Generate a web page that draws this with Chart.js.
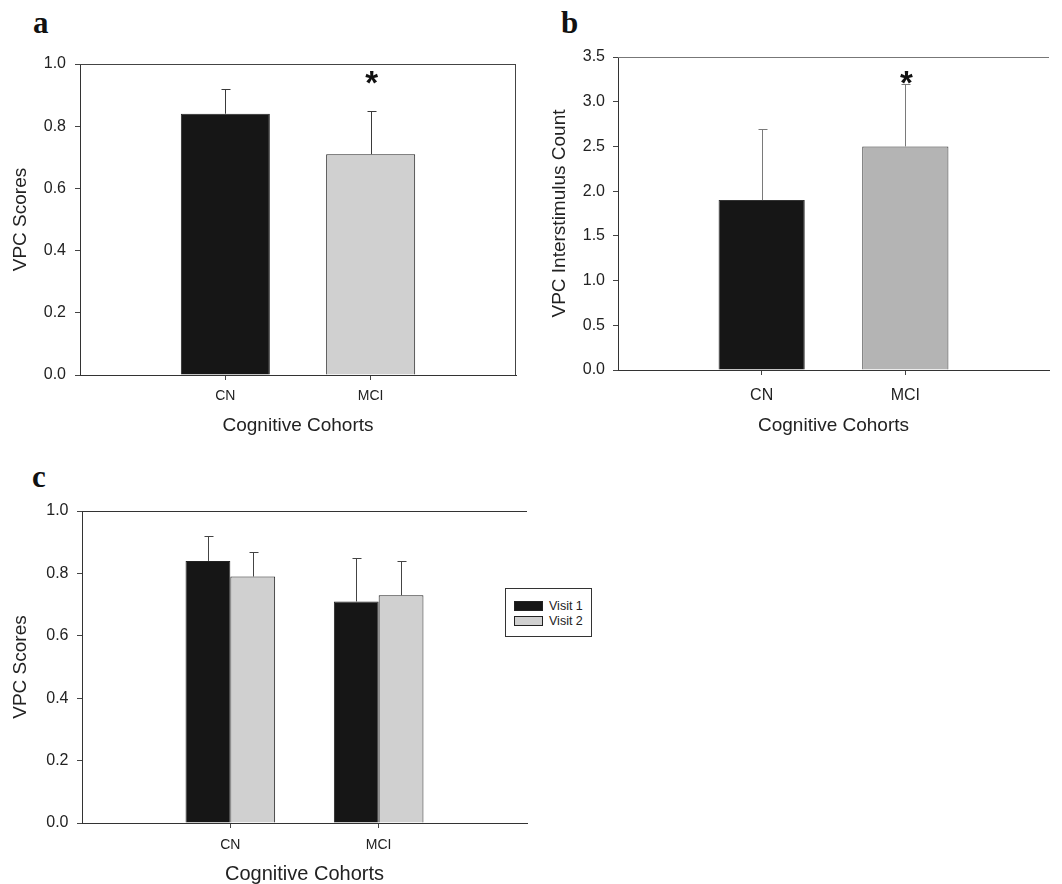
<!DOCTYPE html>
<html>
<head>
<meta charset="utf-8">
<script src="https://cdn.jsdelivr.net/npm/chart.js@4.4.0/dist/chart.umd.min.js"></script>
<style>
    html, body { margin: 0; padding: 0; background: #fff; }
    body { width: 1062px; height: 884px; position: relative; overflow: hidden; font-family: "Liberation Sans", Arial, sans-serif; }
    .panel { position: absolute; }
    .letter { position: absolute; font-family: "Liberation Serif", "Times New Roman", serif; font-weight: bold; font-size: 31px; line-height: 31px; color: #111; }
    .legend { position: absolute; left: 505px; top: 588px; width: 85px; height: 47px; border: 1px solid #333; background: #fff; }
    .legend-row { position: absolute; left: 8px; height: 12px; display: flex; align-items: center; font-size: 12.5px; color: #222; }
    .legend-swatch { width: 27px; height: 8px; border: 1px solid #222; margin-right: 6px; }
</style>
</head>
<body>
<div class="letter" style="left:33px; top:7px;">a</div>
<div class="letter" style="left:561px; top:7px;">b</div>
<div class="letter" style="left:32px; top:461px;">c</div>

<canvas id="chartA" class="panel" width="530" height="440" style="left:0; top:0;"></canvas>
<canvas id="chartB" class="panel" width="532" height="440" style="left:530px; top:0;"></canvas>
<canvas id="chartC" class="panel" width="620" height="444" style="left:0; top:440px;"></canvas>
<div id="legendC" class="legend"></div>

<script>
// categories
const cohorts = ['CN', 'MCI'];

// panel a: VPC scores
const scoresA = [0.84, 0.71];
const errorsA = [0.08, 0.14];
const starA = [null, 0.97];

// panel b: interstimulus count
const countsB = [1.9, 2.5];
const errorsB = [0.8, 0.7];
const starB = [null, 3.31];

// panel c: VPC scores by visit
const visitNames = ['Visit 1', 'Visit 2'];
const visit1C = [0.84, 0.71];
const visit1ErrC = [0.08, 0.14];
const visit2C = [0.79, 0.73];
const visit2ErrC = [0.08, 0.11];

// tick settings
const ticksScores = { max: 1.0, step: 0.2 };
const ticksCount = { max: 3.5, step: 0.5 };

const FONT = '"Liberation Sans", Arial, sans-serif';
const BLACK_BAR = '#161616';
const LIGHT_BAR = '#d0d0d0';
const MID_BAR = '#b4b4b4';

// pad the category axis with blank slots so bars sit at 1/3 and 2/3
const padLabels = (labels) => ['', ...labels, ''];
const padValues = (values) => [null, ...values, null];

const errorBars = {
    id: 'errorBars',
    afterDatasetsDraw(chart) {
        const { ctx } = chart;
        const yScale = chart.scales.y;
        chart.data.datasets.forEach((dataset, i) => {
            const meta = chart.getDatasetMeta(i);
            const errors = dataset.errors || [];
            meta.data.forEach((bar, index) => {
                const value = dataset.data[index];
                const err = errors[index];
                if (value == null || err == null) {
                    return;
                }
                const yEnd = Math.round(yScale.getPixelForValue(value + err)) + 0.5;
                const x = Math.round(bar.x) + 0.5;
                ctx.save();
                ctx.strokeStyle = dataset.errorColor || '#333';
                ctx.lineWidth = 1;
                ctx.beginPath();
                ctx.moveTo(x, bar.y);
                ctx.lineTo(x, yEnd);
                ctx.moveTo(x - 4, yEnd);
                ctx.lineTo(x + 5, yEnd);
                ctx.stroke();
                ctx.restore();
            });
        });
    },
};

const frame = {
    id: 'frame',
    afterDraw(chart, args, opts) {
        const { ctx, chartArea } = chart;
        ctx.save();
        ctx.strokeStyle = opts.color || '#444';
        ctx.lineWidth = 1;
        ctx.beginPath();
        const top = Math.round(chartArea.top) + 0.5;
        ctx.moveTo(chartArea.left, top);
        ctx.lineTo(chartArea.right, top);
        if (opts.right) {
            const right = Math.round(chartArea.right) - 0.5;
            ctx.moveTo(right, chartArea.top);
            ctx.lineTo(right, chartArea.bottom);
        }
        ctx.stroke();
        ctx.restore();
    },
};

const stars = {
    id: 'stars',
    afterDraw(chart, args, opts) {
        if (!opts.values) {
            return;
        }
        const { ctx } = chart;
        const size = opts.size || 33;
        ctx.save();
        ctx.fillStyle = '#111';
        ctx.font = `bold ${size}px ${FONT}`;
        ctx.textAlign = 'center';
        ctx.textBaseline = 'alphabetic';
        opts.values.forEach((value, index) => {
            if (value == null) {
                return;
            }
            const x = chart.scales.x.getPixelForValue(index + 1);
            const y = chart.scales.y.getPixelForValue(value);
            ctx.fillText('*', x + 1, y + size * 0.62);
        });
        ctx.restore();
    },
};

function buildOptions(p) {
    return {
        responsive: false,
        animation: false,
        devicePixelRatio: 1,
        layout: { padding: { top: p.top, right: p.right, left: 0, bottom: 0 } },
        plugins: {
            legend: { display: false },
            tooltip: { enabled: false },
            frame: { color: p.frameColor, right: p.frameRight },
            stars: { values: p.stars || null },
        },
        scales: {
            x: {
                type: 'category',
                offset: false,
                afterFit: (scale) => { scale.height = p.xHeight; },
                grid: {
                    offset: false,
                    drawOnChartArea: false,
                    tickLength: 5,
                    color: (ctx) => (ctx.tick && ctx.tick.label ? '#444' : 'rgba(0,0,0,0)'),
                },
                border: { display: true, color: '#333', width: 1 },
                ticks: {
                    autoSkip: false,
                    maxRotation: 0,
                    padding: p.xPad,
                    color: '#222',
                    font: { family: FONT, size: p.catSize, lineHeight: 1 },
                },
                title: {
                    display: true,
                    text: 'Cognitive Cohorts',
                    color: '#222',
                    padding: p.xTitlePad,
                    font: { family: FONT, size: p.titleSize, lineHeight: 1 },
                },
            },
            y: {
                min: 0,
                max: p.ticks.max,
                afterFit: (scale) => { scale.width = p.yWidth; },
                grid: { drawOnChartArea: false, tickLength: 5, color: '#444' },
                border: { display: true, color: '#333', width: 1 },
                ticks: {
                    stepSize: p.ticks.step,
                    padding: p.yPad,
                    color: '#222',
                    font: { family: FONT, size: 16, lineHeight: 1 },
                    callback: (value) => Number(value).toFixed(1),
                },
                title: {
                    display: true,
                    text: p.yTitle,
                    color: '#222',
                    padding: p.yTitlePad,
                    font: { family: FONT, size: 19, lineHeight: 1 },
                },
            },
        },
    };
}

new Chart(document.getElementById('chartA'), {
    type: 'bar',
    data: {
        labels: padLabels(cohorts),
        datasets: [{
            data: padValues(scoresA),
            errors: padValues(errorsA),
            errorColor: '#3a3a3a',
            backgroundColor: padValues([BLACK_BAR, LIGHT_BAR]),
            borderColor: '#222',
            borderWidth: 1,
            borderSkipped: 'bottom',
            categoryPercentage: 0.6125,
            barPercentage: 1,
        }],
    },
    options: buildOptions({
        top: 64, right: 14, yWidth: 80, xHeight: 65,
        xPad: 9, catSize: 14, titleSize: 19, xTitlePad: { top: 0, bottom: 5 },
        yPad: 9, yTitle: 'VPC Scores', yTitlePad: { top: 11.5, bottom: 0 },
        ticks: ticksScores, frameColor: '#444', frameRight: true, stars: starA,
    }),
    plugins: [errorBars, frame, stars],
});

new Chart(document.getElementById('chartB'), {
    type: 'bar',
    data: {
        labels: padLabels(cohorts),
        datasets: [{
            data: padValues(countsB),
            errors: padValues(errorsB),
            errorColor: '#7a7a7a',
            backgroundColor: padValues([BLACK_BAR, MID_BAR]),
            borderColor: '#333',
            borderWidth: 1,
            borderSkipped: 'bottom',
            categoryPercentage: 0.6,
            barPercentage: 1,
        }],
    },
    options: buildOptions({
        top: 57, right: 3, yWidth: 88, xHeight: 70,
        xPad: 13, catSize: 16, titleSize: 19, xTitlePad: { top: 0, bottom: 5 },
        yPad: 8, yTitle: 'VPC Interstimulus Count', yTitlePad: { top: 20.5, bottom: 0 },
        ticks: ticksCount, frameColor: '#777', frameRight: false, stars: starB,
    }),
    plugins: [errorBars, frame, stars],
});

const chartC = new Chart(document.getElementById('chartC'), {
    type: 'bar',
    data: {
        labels: padLabels(cohorts),
        datasets: [
            {
                label: visitNames[0],
                data: padValues(visit1C),
                errors: padValues(visit1ErrC),
                errorColor: '#444',
                backgroundColor: BLACK_BAR,
                borderColor: '#222',
                borderWidth: 1,
                borderSkipped: 'bottom',
                categoryPercentage: 0.604,
                barPercentage: 1,
            },
            {
                label: visitNames[1],
                data: padValues(visit2C),
                errors: padValues(visit2ErrC),
                errorColor: '#444',
                backgroundColor: LIGHT_BAR,
                borderColor: '#222',
                borderWidth: 1,
                borderSkipped: 'bottom',
                categoryPercentage: 0.604,
                barPercentage: 1,
            },
        ],
    },
    options: buildOptions({
        top: 71, right: 93, yWidth: 82, xHeight: 61,
        xPad: 10, catSize: 14, titleSize: 20, xTitlePad: { top: 0, bottom: 0 },
        yPad: 8.5, yTitle: 'VPC Scores', yTitlePad: { top: 11.5, bottom: 0 },
        ticks: ticksScores, frameColor: '#333', frameRight: false,
    }),
    plugins: [errorBars, frame, stars],
});

// legend for panel c built from the chart's datasets
const legendC = document.getElementById('legendC');
chartC.data.datasets.forEach((dataset, i) => {
    const row = document.createElement('div');
    row.className = 'legend-row';
    row.style.top = `${11 + i * 15}px`;
    const swatch = document.createElement('span');
    swatch.className = 'legend-swatch';
    swatch.style.background = dataset.backgroundColor;
    const text = document.createElement('span');
    text.textContent = dataset.label;
    row.appendChild(swatch);
    row.appendChild(text);
    legendC.appendChild(row);
});
</script>
</body>
</html>
